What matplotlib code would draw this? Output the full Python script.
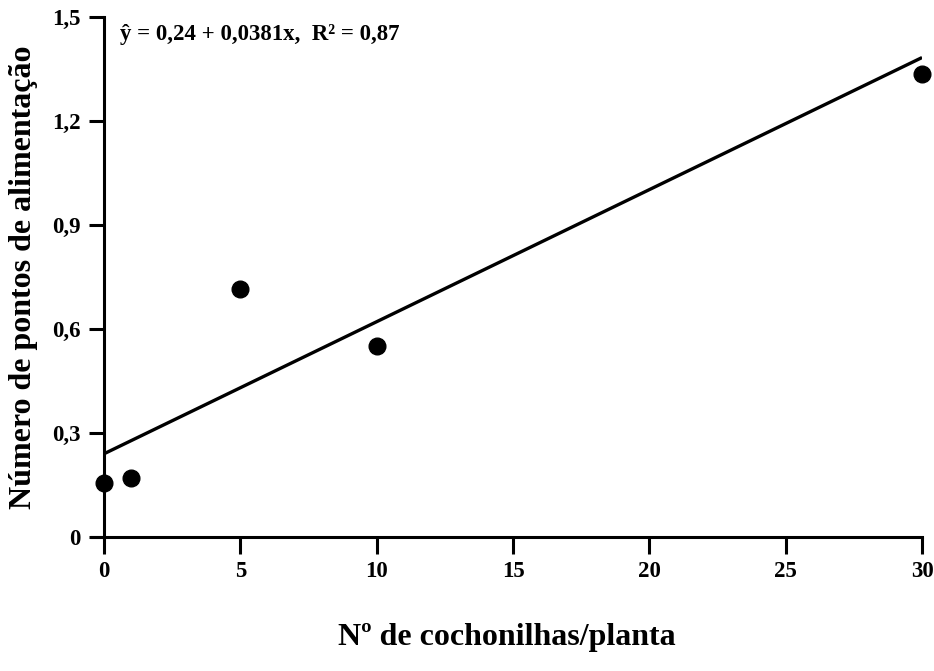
import numpy as np
import matplotlib.pyplot as plt

plt.rcParams['font.family'] = ['Liberation Serif', 'DejaVu Serif']
plt.rcParams['font.weight'] = 'bold'

cochonilhas = [0, 1, 5, 10, 30]
pontos = [0.155, 0.17, 0.715, 0.552, 1.335]
intercept = 0.24
slope = 0.0381

fig = plt.figure(figsize=(9.34, 6.71), dpi=100)
ax = fig.add_axes([0.0985, 0.1997, 0.8887, 0.775])

xfit = np.array([0, 30])
ax.plot(xfit, intercept + slope * xfit, color='black', lw=2.4, solid_capstyle='butt')
ax.plot(cochonilhas, pontos, 'o', color='black', markersize=12, clip_on=False)

ax.set_xlim(-0.44, 30)
ax.set_ylim(0, 1.5)
ax.set_xticks([0, 5, 10, 15, 20, 25, 30])
ax.set_yticks([0, 0.3, 0.6, 0.9, 1.2, 1.5])
ax.set_yticklabels(['0', '0,3', '0,6', '0,9', '1,2', '1,5'])
ax.spines['top'].set_visible(False)
ax.spines['right'].set_visible(False)
ax.spines['left'].set_linewidth(2.2)
ax.spines['bottom'].set_linewidth(2.2)
ax.spines['left'].set_position(('data', 0))
ax.tick_params(axis='both', width=2.2, length=11, labelsize=16.5, pad=6)
ax.tick_params(axis='x', length=12, pad=5)

ax.text(0.6, 1.45, 'ŷ = 0,24 + 0,0381x,  R² = 0,87', fontsize=16.5,
        fontweight='bold', va='center', ha='left')

ax.set_xlabel('Nº de cochonilhas/planta', fontsize=23, fontweight='bold', labelpad=30)
ax.set_ylabel('Número de pontos de alimentação', fontsize=23, fontweight='bold', labelpad=10)

fig.savefig('out.png', dpi=100)
